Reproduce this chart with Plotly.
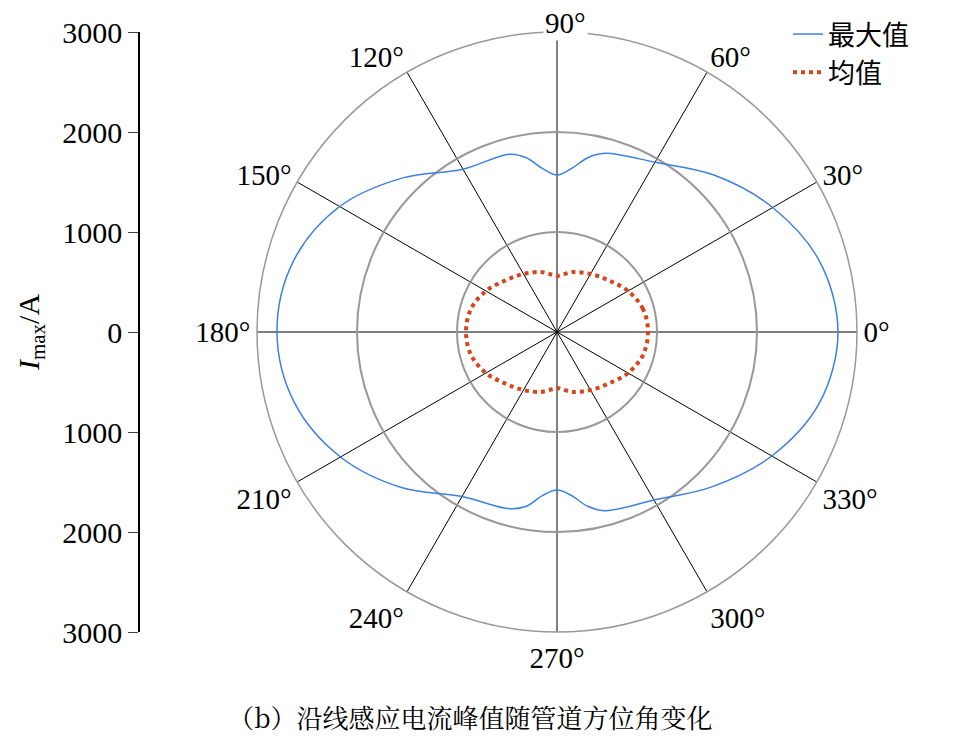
import plotly.graph_objects as go

theta_max = [0,15,30,45,60,75,80,85,90,95,100,105,120,135,150,165,180,195,210,225,240,255,260,265,270,275,280,285,300,315,330,345,360]
r_max = [2810,2720,2490,2220,1960,1850,1770,1640,1570,1640,1770,1840,1880,2180,2510,2730,2800,2720,2500,2200,1900,1830,1770,1640,1580,1640,1770,1850,1940,2190,2480,2720,2810]
theta_mean = [0,15,30,45,60,75,85,90,95,105,120,135,150,165,180,195,210,225,240,255,265,270,275,285,300,315,330,345,360]
r_mean = [910,890,820,730,670,620,575,560,575,620,670,730,820,890,910,890,820,730,670,620,575,560,575,620,670,730,820,890,910]
ang_ticks = [0,30,60,90,120,150,180,210,240,270,300,330]
y_ticks = [-3000,-2000,-1000,0,1000,2000,3000]
y_labels = ["3000","2000","1000","0","1000","2000","3000"]

W, H = 973, 739
font = "Liberation Serif, Times New Roman, serif"
fig = go.Figure()
fig.add_trace(go.Scatterpolar(r=r_max, theta=theta_max, mode="lines", name="最大值",
    line=dict(color="#3d80e0", width=1.5, shape="spline")))
fig.add_trace(go.Scatterpolar(r=r_mean, theta=theta_mean, mode="lines", name="均值",
    line=dict(color="#d4461c", width=4, dash="dot", shape="spline")))
fig.add_trace(go.Scatter(x=[0], y=[0], mode="markers", marker=dict(opacity=0), showlegend=False, hoverinfo="skip"))

fig.update_layout(
    width=W, height=H, margin=dict(l=0, r=0, t=0, b=0, autoexpand=False),
    paper_bgcolor="white", plot_bgcolor="white",
    font=dict(family=font, size=28, color="black"),
    polar=dict(
        domain=dict(x=[249/W, 849/W], y=[1-624/H, 1-24/H]),
        bgcolor="white",
        radialaxis=dict(range=[0, 3000], tickvals=[1000, 2000, 3000], showticklabels=False, angle=0,
                        gridcolor="#999999", gridwidth=1.5, showline=False, ticks=""),
        angularaxis=dict(tickvals=ang_ticks, ticktext=[("" if a == 90 else f"{a}°") for a in ang_ticks],
                         direction="counterclockwise", rotation=0, gridcolor="black", gridwidth=1.3,
                         linecolor="#999999", linewidth=1.5, ticks="", tickfont=dict(size=29)),
    ),
    xaxis=dict(domain=[132/W, 134/W], visible=False, range=[0, 1]),
    yaxis=dict(domain=[1-624/H, 1-24/H], range=[-3000, 3000], tickvals=y_ticks, ticktext=y_labels,
               ticks="outside", ticklen=10, showline=True, linecolor="black", linewidth=1.5,
               showgrid=False, zeroline=False, tickfont=dict(size=30),
               title=dict(text="<i>I</i><sub>max</sub>/A", standoff=14, font=dict(size=30))),
    legend=dict(x=780/W, y=1-2/H, xanchor="left", yanchor="top", bgcolor="rgba(0,0,0,0)",
                font=dict(size=27, family="Noto Sans CJK SC"), tracegroupgap=0),
    annotations=[
        dict(text="（b）沿线感应电流峰值随管道方位角变化", x=462/W, y=1-708/H,
             xref="paper", yref="paper", showarrow=False, yanchor="middle",
             font=dict(size=26, family="Noto Serif CJK SC, Noto Sans CJK SC")),
        dict(text="90°", x=557/W, y=1-15/H, xref="paper", yref="paper", showarrow=False,
             yanchor="middle", bgcolor="white", font=dict(size=29)),
    ],
)
fig.write_html("out.html")
